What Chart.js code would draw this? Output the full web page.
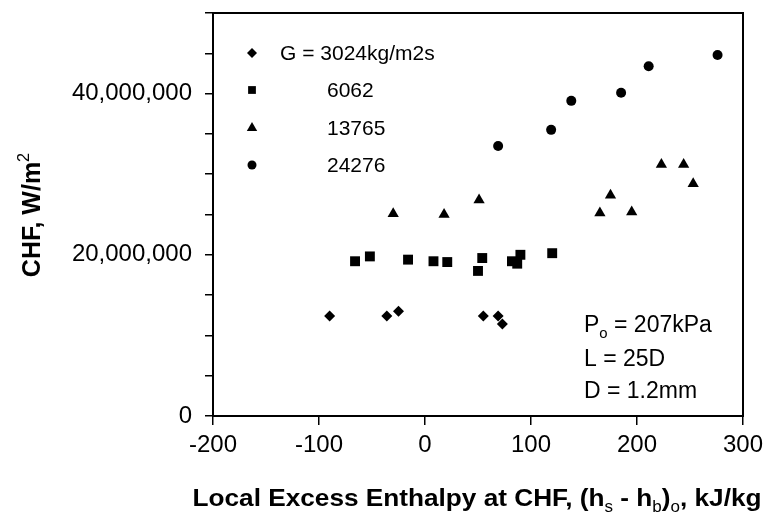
<!DOCTYPE html>
<html>
<head>
<meta charset="utf-8">
<script src="https://cdn.jsdelivr.net/npm/chart.js@4.4.1/dist/chart.umd.min.js"></script>
<style>
  body { margin: 0; background: #fff; }
  #grafico { display: block; }
</style>
</head>
<body>
<canvas id="grafico" width="768" height="515"></canvas>
<script>
// Datos (x en kJ/kg, y en W/m2)
const g3024X = [-90, -36, -25, 55, 69, 73];
const g3024Y = [12400000, 12400000, 13000000, 12400000, 12400000, 11400000];

const g6062X = [-66, -52, -16, 8, 21, 50, 54, 82, 87, 90, 120];
const g6062Y = [19200000, 19800000, 19400000, 19200000, 19100000, 18000000, 19600000, 19200000, 18900000, 20000000, 20200000];

const g13765X = [-30, 18, 51, 165, 175, 195, 223, 244, 253];
const g13765Y = [25100000, 25000000, 26800000, 25200000, 27400000, 25300000, 31200000, 31200000, 28800000];

const g24276X = [69, 119, 138, 185, 211, 276];
const g24276Y = [33500000, 35500000, 39100000, 40100000, 43400000, 44800000];

const etiquetas = ['G = 3024kg/m2s', '6062', '13765', '24276'];
const ticksX = [-200, -100, 0, 100, 200, 300];
const ticksYConTexto = [0, 20000000, 40000000];
const notas = ['= 207kPa', 'L = 25D', 'D = 1.2mm'];

const FUENTE = '"Liberation Sans", Arial, sans-serif';

function puntos(xs, ys) {
  return xs.map((x, i) => ({ x: x, y: ys[i] }));
}

// texto con subindices / superindices
function textoRico(ctx, partes, x, y, tam, peso, ancho, rot, alinear) {
  const medir = (p) => {
    const t = p.sub || p.sup ? tam * 0.65 : tam;
    ctx.font = (p.sub || p.sup ? 'normal' : peso) + ' ' + t + 'px ' + FUENTE;
    return ctx.measureText(p.t).width;
  };
  const total = partes.reduce((s, p) => s + medir(p), 0);
  const sx = ancho ? ancho / total : 1;
  ctx.save();
  ctx.translate(x, y);
  ctx.rotate(rot || 0);
  ctx.scale(sx, 1);
  ctx.fillStyle = '#000';
  ctx.textBaseline = 'alphabetic';
  ctx.textAlign = 'left';
  let px = alinear === 'left' ? 0 : -total / 2;
  partes.forEach((p) => {
    const w = medir(p);
    let dy = 0;
    if (p.sub) dy = tam * 0.25;
    if (p.sup) dy = -tam * 0.45;
    ctx.fillText(p.t, px, dy);
    px += w;
  });
  ctx.restore();
}

const marcoYTextos = {
  id: 'marcoYTextos',
  afterDraw(chart) {
    const ctx = chart.ctx;
    const a = chart.chartArea;
    ctx.save();
    ctx.strokeStyle = '#000';
    ctx.lineWidth = 2;
    ctx.strokeRect(a.left, a.top, a.right - a.left, a.bottom - a.top);
    ctx.restore();

    // leyenda dentro del area
    const filasY = [53, 90, 128, 165];
    const textoX = [280, 327, 327, 327];
    const radios = [5, 5.5, 6, 4.5];
    chart.data.datasets.forEach((ds, i) => {
      ctx.save();
      ctx.fillStyle = '#000';
      Chart.helpers.drawPoint(ctx, { pointStyle: ds.pointStyle, radius: radios[i], rotation: 0, borderWidth: 0 }, 252, filasY[i]);
      ctx.font = '21px ' + FUENTE;
      ctx.textBaseline = 'middle';
      ctx.textAlign = 'left';
      ctx.fillText(ds.label, textoX[i], filasY[i] + 1);
      ctx.restore();
    });

    // notas
    textoRico(ctx, [{ t: 'P' }, { t: 'o', sub: true }, { t: ' ' + notas[0] }], 584, 332, 23, 'normal', 0, 0, 'left');
    textoRico(ctx, [{ t: notas[1] }], 584, 366, 23, 'normal', 0, 0, 'left');
    textoRico(ctx, [{ t: notas[2] }], 584, 398, 23, 'normal', 0, 0, 'left');

    // titulos de ejes
    textoRico(ctx, [
      { t: 'Local Excess Enthalpy at CHF, (h' }, { t: 's', sub: true }, { t: ' - h' }, { t: 'b', sub: true },
      { t: ')' }, { t: 'o', sub: true }, { t: ', kJ/kg' }
    ], 477, 506, 24, 'bold', 569, 0);
    textoRico(ctx, [{ t: 'CHF, W/m' }, { t: '2', sup: true }], 40, 215, 25, 'bold', 0, -Math.PI / 2);
  }
};

new Chart(document.getElementById('grafico'), {
  type: 'scatter',
  data: {
    datasets: [
      { label: etiquetas[0], data: puntos(g3024X, g3024Y), pointStyle: 'rectRot', pointRadius: 5.5, backgroundColor: '#000', borderWidth: 0 },
      { label: etiquetas[1], data: puntos(g6062X, g6062Y), pointStyle: 'rect', pointRadius: 7, backgroundColor: '#000', borderWidth: 0 },
      { label: etiquetas[2], data: puntos(g13765X, g13765Y), pointStyle: 'triangle', pointRadius: 6.5, backgroundColor: '#000', borderWidth: 0 },
      { label: etiquetas[3], data: puntos(g24276X, g24276Y), pointStyle: 'circle', pointRadius: 5, backgroundColor: '#000', borderWidth: 0 },
    ],
  },
  options: {
    responsive: false,
    animation: false,
    layout: { padding: { top: 13, right: 25, left: 0, bottom: 0 } },
    plugins: {
      legend: { display: false },
      tooltip: { enabled: false },
    },
    scales: {
      x: {
        type: 'linear',
        min: ticksX[0],
        max: ticksX[ticksX.length - 1],
        afterBuildTicks: (s) => { s.ticks = ticksX.map((v) => ({ value: v })); },
        ticks: { color: '#000', font: { family: FUENTE, size: 24 }, padding: 6, maxRotation: 0, autoSkip: false },
        grid: { drawOnChartArea: false, drawTicks: true, tickLength: 9, color: '#000', lineWidth: 1.5 },
        border: { display: false },
        afterFit: (s) => { s.height = 99; s.paddingLeft = 0; s.paddingRight = 0; },
      },
      y: {
        min: 0,
        max: 50000000,
        ticks: {
          stepSize: 5000000,
          autoSkip: false,
          color: '#000',
          font: { family: FUENTE, size: 24 },
          padding: 13,
          callback: (v) => (ticksYConTexto.includes(v) ? v.toLocaleString('en-US') : ''),
        },
        grid: { drawOnChartArea: false, drawTicks: true, tickLength: 8, color: '#000', lineWidth: 1.5 },
        border: { display: false },
        afterFit: (s) => { s.width = 213; s.paddingTop = 0; s.paddingBottom = 0; },
      },
    },
  },
  plugins: [marcoYTextos],
});
</script>
</body>
</html>
